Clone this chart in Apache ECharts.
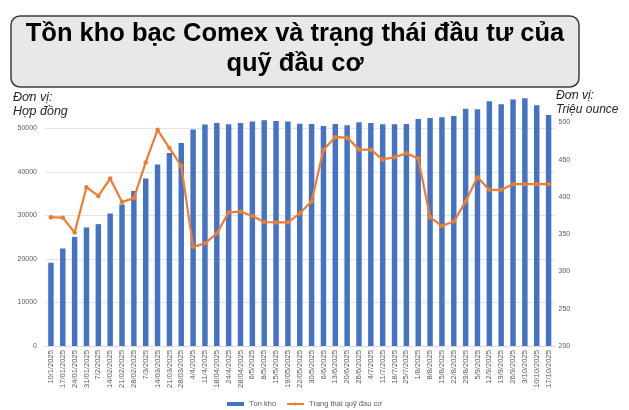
<!DOCTYPE html>
<html>
<head>
<meta charset="utf-8">
<script src="https://cdn.jsdelivr.net/npm/echarts@6/dist/echarts.min.js"></script>
<style>
html,body{margin:0;padding:0;background:#fff;}
#c{width:629px;height:410px;}
</style>
</head>
<body>
<div id="c"></div>
<script>
var categories = ["10/1/2025","17/01/2025","24/01/2025","31/01/2025","7/2/2025","14/02/2025","21/02/2025","28/02/2025","7/3/2025","14/03/2025","21/03/2025","28/03/2025","4/4/2025","11/4/2025","18/04/2025","24/4/2025","28/04/2025","6/5/2025","8/5/2025","15/5/2025","19/05/2025","22/05/2025","30/5/2025","6/6/2025","13/6/2025","20/6/2025","26/6/2025","4/7/2025","11/7/2025","18/7/2025","25/7/2025","1/8/2025","8/8/2025","15/8/2025","22/8/2025","29/8/2025","5/9/2025","12/9/2025","19/9/2025","26/9/2025","3/10/2025","10/10/2025","17/10/2025"];

// Tồn kho (triệu ounce) - right axis
var tonKho = [311.6,330.8,346.4,359,363.4,377.7,389.8,408,424.6,443.3,458.9,472.3,490.2,496.9,499,497.3,499,500.9,502.7,501.8,500.9,498.2,497.7,495,497.7,496,500,499,497.3,497.3,497.7,504.4,505.7,506.7,508.4,518.3,517.4,528.1,524.1,530.4,532.1,522.7,509.8];

// Trạng thái quỹ đầu cơ (hợp đồng) - left axis
var quyDauCo = [29600,29500,26100,36500,34500,38500,33100,34000,42200,49700,45500,41400,22800,23600,25900,30700,30900,29900,28500,28400,28400,30500,33200,45100,48000,47900,45200,45100,42900,43400,44300,43100,29600,27600,28600,33200,38800,35900,35900,37200,37200,37200,37200];

var leftTicks = {min: 0, max: 60000, interval: 10000};
var rightTicks = {min: 200, max: 550, interval: 50};

var titleLines = ["Tồn kho bạc Comex và trạng thái đầu tư của", "quỹ đầu cơ"];
var seriesNames = ["Tồn kho", "Trạng thái quỹ đầu cơ"];

var chart = echarts.init(document.getElementById('c'), null, {renderer: 'canvas'});
var font = 'Liberation Sans, Arial, sans-serif';
chart.setOption({
  animation: false,
  textStyle: {fontFamily: font},
  grid: {left: 45, right: 74.5, top: 85, bottom: 64, containLabel: false},
  legend: {
    left: 222, top: 395,
    itemWidth: 17, itemHeight: 4, itemGap: 10,
    textStyle: {fontSize: 7.5, color: '#595959', fontFamily: font},
    data: [
      {name: seriesNames[0], icon: 'rect'},
      {name: seriesNames[1]}
    ]
  },
  xAxis: {
    type: 'category',
    data: categories,
    axisTick: {show: false},
    axisLine: {lineStyle: {color: '#d9d9d9'}},
    axisLabel: {rotate: 90, interval: 0, fontSize: 7.6, color: '#595959', margin: 4, fontFamily: font}
  },
  yAxis: [
    {
      type: 'value', min: leftTicks.min, max: leftTicks.max, interval: leftTicks.interval,
      axisLine: {show: false}, axisTick: {show: false},
      axisLabel: {fontSize: 7, color: '#595959', margin: 8, showMaxLabel: false, fontFamily: font,
        formatter: function (v) { return String(v); }},
      splitLine: {lineStyle: {color: '#e3e3e3', width: 1}}
    },
    {
      type: 'value', min: rightTicks.min, max: rightTicks.max, interval: rightTicks.interval,
      axisLine: {show: false}, axisTick: {show: false},
      axisLabel: {fontSize: 7, color: '#595959', margin: 4, showMaxLabel: false, fontFamily: font,
        formatter: function (v) { return String(v); }},
      splitLine: {show: false}
    }
  ],
  series: [
    {
      name: seriesNames[0], type: 'bar', yAxisIndex: 1,
      data: tonKho, barWidth: '46%',
      itemStyle: {color: '#4472C4'}
    },
    {
      name: seriesNames[1], type: 'line', yAxisIndex: 0,
      data: quyDauCo,
      symbol: 'circle', symbolSize: 4.5,
      lineStyle: {color: '#ED7D31', width: 2.2},
      itemStyle: {color: '#ED7D31'}
    }
  ],
  graphic: [
    {
      type: 'rect', z: 100,
      shape: {x: 11, y: 16, width: 568, height: 71, r: 9},
      style: {fill: '#e8e8e8', stroke: '#3c3c3c', lineWidth: 1.5}
    },
    {
      type: 'text', z: 101, x: 295, y: 33.5,
      style: {text: titleLines[0], font: 'bold 25.5px ' + font, fill: '#000', textAlign: 'center', textVerticalAlign: 'middle'}
    },
    {
      type: 'text', z: 101, x: 295, y: 64,
      style: {text: titleLines[1], font: 'bold 25.5px ' + font, fill: '#000', textAlign: 'center', textVerticalAlign: 'middle'}
    },
    {
      type: 'text', z: 101, x: 13, y: 90,
      style: {text: 'Đơn vị:\nHợp đồng', font: 'italic 12.5px ' + font, fill: '#262626', lineHeight: 14.5}
    },
    {
      type: 'text', z: 101, x: 556, y: 88,
      style: {text: 'Đơn vị:\nTriệu ounce', font: 'italic 12px ' + font, fill: '#262626', lineHeight: 14.5}
    }
  ]
});
</script>
</body>
</html>
